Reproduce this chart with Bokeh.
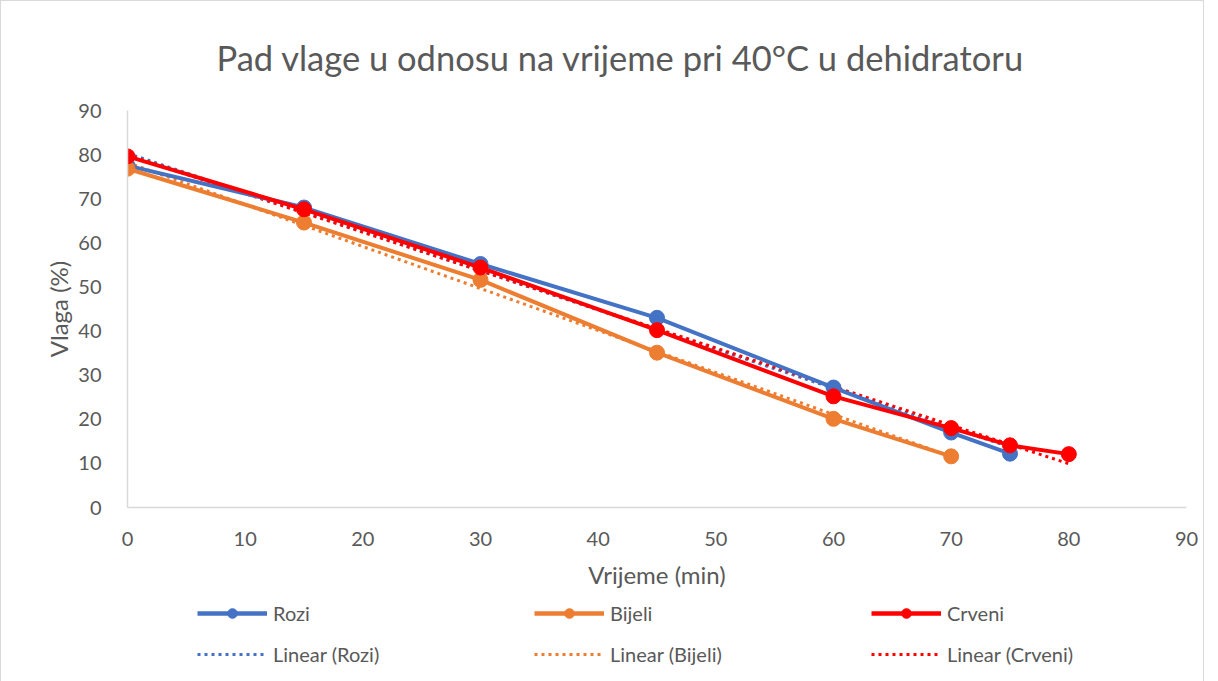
import numpy as np
from bokeh.plotting import figure
from bokeh.layouts import column
from bokeh.models import Legend, LegendItem, Range1d, FixedTicker, Title
from bokeh.embed import file_html
from bokeh.resources import INLINE

# ---- data ----
x_rozi = [0, 15, 30, 45, 60, 70, 75]
y_rozi = [77.5, 68, 55.2, 43, 27.2, 17, 12.2]
x_bijeli = [0, 15, 30, 45, 60, 70]
y_bijeli = [76.8, 64.6, 51.6, 35.1, 20.1, 11.6]
x_crveni = [0, 15, 30, 45, 60, 70, 75, 80]
y_crveni = [79.6, 67.6, 54.4, 40.2, 25.2, 18, 14.1, 12.1]
x_ticks = [0, 10, 20, 30, 40, 50, 60, 70, 80, 90]
y_ticks = [0, 10, 20, 30, 40, 50, 60, 70, 80, 90]
series_names = ["Rozi", "Bijeli", "Crveni"]
series_colors = ["#4472C4", "#ED7D31", "#FF0000"]

FONT = "Lato"
GRAY = "#595959"

p = figure(width=1202, height=597, output_backend="svg", toolbar_location=None,
           x_range=Range1d(0, 90), y_range=Range1d(0, 90),
           min_border_left=126, min_border_right=17, min_border_top=107, min_border_bottom=91)
p.outline_line_color = None
p.xgrid.grid_line_color = None
p.ygrid.grid_line_color = None

p.title = Title(text="Pad vlage u odnosu na vrijeme pri 40°C u dehidratoru", align="left",
                text_font=FONT, text_font_size="34.5px", text_font_style="normal",
                text_color=GRAY, offset=89)
p.title.standoff = 66

for ax in (p.xaxis[0], p.yaxis[0]):
    ax.axis_line_color = "#d9d9d9"
    ax.axis_line_width = 1.5
    ax.major_tick_line_color = None
    ax.minor_tick_line_color = None
    ax.major_label_text_font = FONT
    ax.major_label_text_font_size = "20px"
    ax.major_label_text_color = GRAY
    ax.axis_label_text_font = FONT
    ax.axis_label_text_font_size = "24px"
    ax.axis_label_text_font_style = "normal"
    ax.axis_label_text_color = GRAY
p.xaxis.ticker = FixedTicker(ticks=x_ticks)
p.yaxis.ticker = FixedTicker(ticks=y_ticks)
p.xaxis.axis_label = "Vrijeme (min)"
p.yaxis.axis_label = "Vlaga (%)"
p.xaxis.major_label_standoff = 18
p.yaxis.major_label_standoff = 20
p.xaxis.axis_label_standoff = 11
p.yaxis.axis_label_standoff = 2

all_x = [x_rozi, x_bijeli, x_crveni]
all_y = [y_rozi, y_bijeli, y_crveni]

# trendlines (least-squares fit of each series, like Excel's linear trendline)
for xs, ys, col in zip(all_x, all_y, series_colors):
    m, b = np.polyfit(xs, ys, 1)
    tx = [xs[0], xs[-1]]
    ty = [m * xs[0] + b, m * xs[-1] + b]
    p.line(tx, ty, line_color=col, line_width=3, line_dash="3 4")
for xs, ys, col in zip(all_x, all_y, series_colors):
    p.line(xs, ys, line_color=col, line_width=4)
    p.scatter(xs, ys, size=15, fill_color=col, line_color=col)

# ---- legend strip below the chart (its renderers lie outside its visible range) ----
lf = figure(width=1202, height=83, output_backend="svg", toolbar_location=None,
            x_range=Range1d(500, 501), y_range=Range1d(500, 501),
            x_axis_type=None, y_axis_type=None, min_border=0)
lf.outline_line_color = None
lf.xgrid.grid_line_color = None
lf.ygrid.grid_line_color = None

main_items = []
trend_items = []
for name, xs, ys, col in zip(series_names, all_x, all_y, series_colors):
    ln = lf.line(xs, ys, line_color=col, line_width=4.5)
    sc = lf.scatter(xs, ys, size=16, fill_color=col, line_color=col)
    main_items.append(LegendItem(label=name, renderers=[ln, sc]))
for name, xs, ys, col in zip(series_names, all_x, all_y, series_colors):
    m, b = np.polyfit(xs, ys, 1)
    tr = lf.line([xs[0], xs[-1]], [m * xs[0] + b, m * xs[-1] + b],
                 line_color=col, line_width=3, line_dash="3 4")
    trend_items.append(LegendItem(label="Linear (%s)" % name, renderers=[tr]))

for items, ypos in ((main_items, 56), (trend_items, 15)):
    lg = Legend(items=items, orientation="horizontal", location=(70, ypos),
                label_text_font=FONT, label_text_font_size="20px", label_text_color=GRAY,
                glyph_width=70, glyph_height=24, label_standoff=6, label_width=261, spacing=0,
                label_height=24,
                background_fill_alpha=0, border_line_color=None, padding=0, margin=0)
    lf.add_layout(lg, "center")

layout = column(p, lf, spacing=0, styles={"border": "1px solid #d9d9d9"})
open("out.html", "w").write(file_html(layout, INLINE))
